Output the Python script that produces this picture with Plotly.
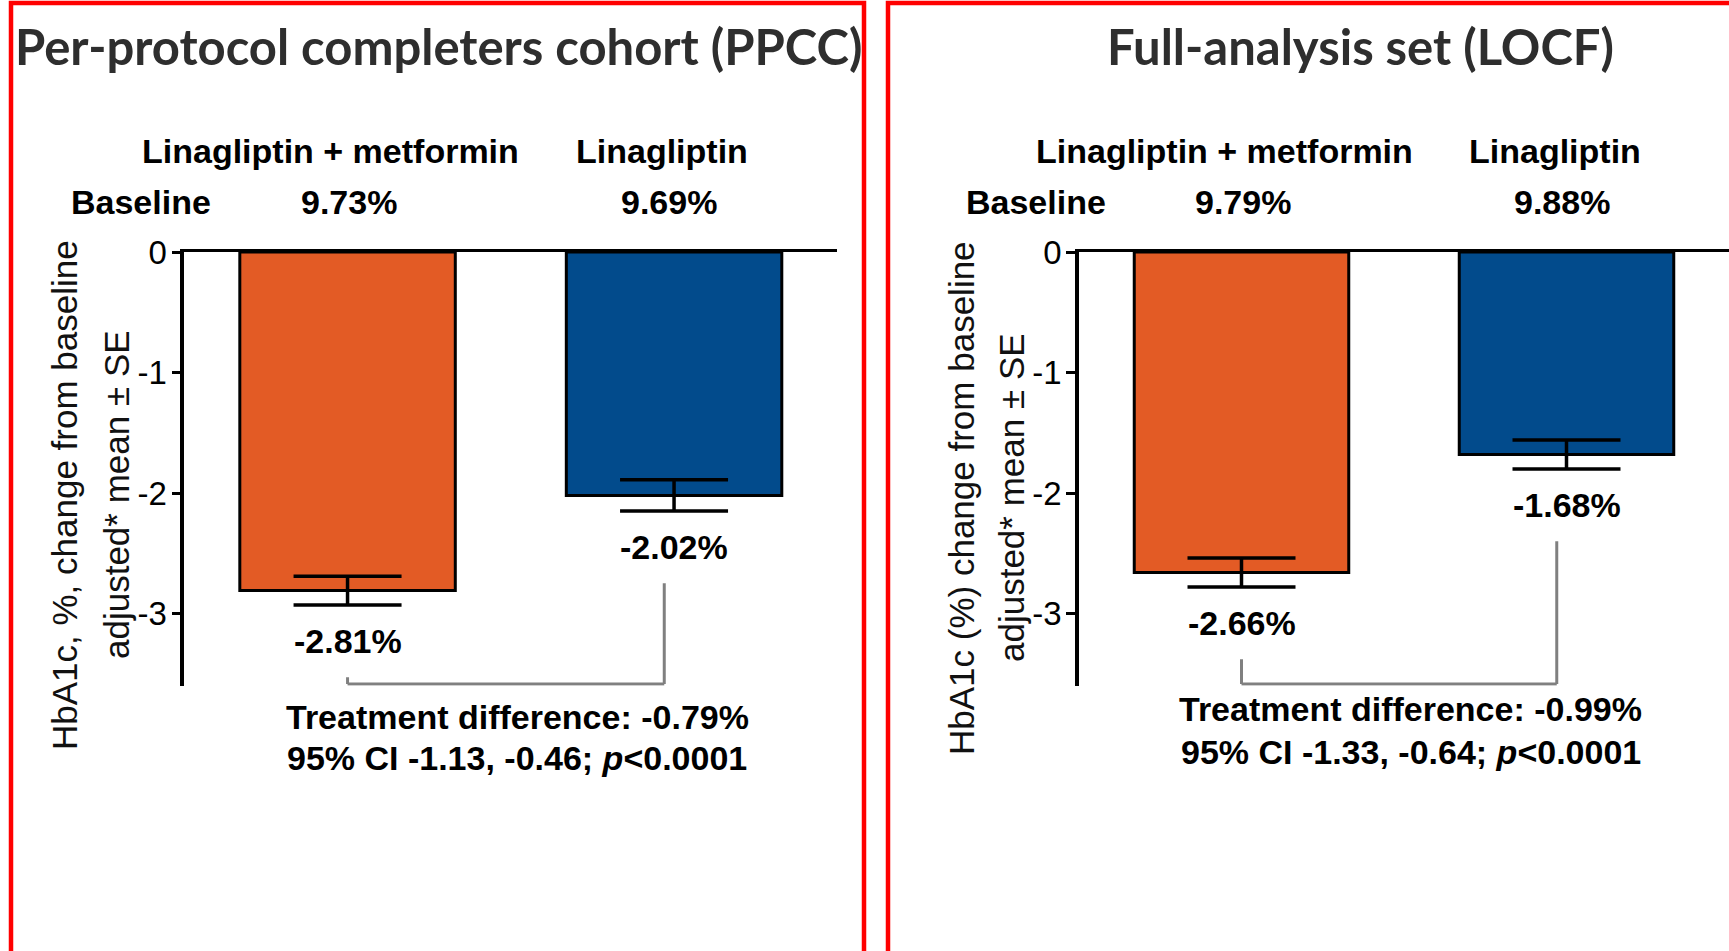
import plotly.graph_objects as go

W, H = 1729, 951

# ---------------- data ----------------
groups = ["Linagliptin + metformin", "Linagliptin"]
panel_titles = ["Per-protocol completers cohort (PPCC)", "Full-analysis set (LOCF)"]
y_title_line1 = ["HbA1c, %, change from baseline", "HbA1c (%) change from baseline"]
y_title_line2 = ["adjusted* mean ± SE", "adjusted* mean ± SE"]
baseline_ppcc = [9.73, 9.69]
baseline_fas = [9.79, 9.88]
change_ppcc = [-2.81, -2.02]
change_fas = [-2.66, -1.68]
se_ppcc = [0.12, 0.13]
se_fas = [0.12, 0.12]
treat_diff = [-0.79, -0.99]
ci_low = [-1.13, -1.33]
ci_high = [-0.46, -0.64]
p_values = ["<0.0001", "<0.0001"]
y_tick_vals = [0, -1, -2, -3]
y_tick_text = ["0", "-1", "-2", "-3"]
bar_colors = ["#E35B25", "#024B8C"]

panels = [
    dict(base=baseline_ppcc, chg=change_ppcc, se=se_ppcc),
    dict(base=baseline_fas, chg=change_fas, se=se_fas),
]

# ---------------- layout helpers ----------------
ARIAL = "Liberation Sans, Arial, Helvetica, sans-serif"
TITLE_FONT = "Lato, Carlito, Calibri, sans-serif"


def px(x):
    return x / W


def py(y):
    return 1 - y / H


x_domains = [[px(184.3), px(837.3)], [px(1079), 1.0]]
y_domain = [py(685.8), py(252)]
y_range = [-3.6, 0]

fig = go.Figure()
annotations = []
shapes = []

title_x = [438, 1360]
ytitle_x1 = [64, 962]
ytitle_x2 = [116, 1012]
ytitle_y = [495, 498]
diff_y1 = [717, 709]
diff_y2 = [758, 752]

for i, p in enumerate(panels):
    xa = "x" if i == 0 else "x2"
    ya = "y" if i == 0 else "y2"
    fig.add_trace(go.Bar(
        x=[0, 1], y=p["chg"], xaxis=xa, yaxis=ya, width=0.66,
        marker=dict(color=bar_colors, line=dict(color="black", width=3)),
        error_y=dict(type="data", array=p["se"], visible=True,
                     color="black", thickness=3.5, width=54),
        hoverinfo="skip",
    ))
    # panel title
    annotations.append(dict(
        text=f"<b>{panel_titles[i]}</b>", xref="paper", yref="paper",
        x=px(title_x[i]), y=py(46), xanchor="center", yanchor="middle",
        showarrow=False, font=dict(family=TITLE_FONT, size=49, color="#2E2E2E")))
    # group headers
    for j, g in enumerate(groups):
        annotations.append(dict(
            text=f"<b>{g}</b>", xref=xa, yref="paper", x=j, xshift=[-17, -12][j],
            y=py(151), xanchor="center", yanchor="middle", showarrow=False,
            font=dict(family=ARIAL, size=34, color="black")))
        annotations.append(dict(
            text=f"<b>{p['base'][j]:.2f}%</b>", xref=xa, yref="paper", x=j,
            xshift=[1, -5][j], y=py(202), xanchor="center", yanchor="middle",
            showarrow=False, font=dict(family=ARIAL, size=34, color="black")))
        # value labels under error bars
        annotations.append(dict(
            text=f"<b>{p['chg'][j]:.2f}%</b>", xref=xa, yref=ya, x=j,
            y=p["chg"][j] - p["se"][j], yshift=-36, xanchor="center",
            yanchor="middle", showarrow=False,
            font=dict(family=ARIAL, size=34, color="black")))
    annotations.append(dict(
        text="<b>Baseline</b>", xref=xa + " domain", yref="paper", x=0, xshift=-43,
        y=py(202), xanchor="center", yanchor="middle", showarrow=False,
        font=dict(family=ARIAL, size=34, color="black")))
    # y axis title lines
    for lx, txt in ((ytitle_x1[i], y_title_line1[i]), (ytitle_x2[i], y_title_line2[i])):
        annotations.append(dict(
            text=txt, xref="paper", yref="paper", x=px(lx), y=py(ytitle_y[i]),
            xanchor="center", yanchor="middle", textangle=-90, showarrow=False,
            font=dict(family=ARIAL, size=35, color="#111111")))
    # treatment difference text
    annotations.append(dict(
        text=f"<b>Treatment difference: {treat_diff[i]:.2f}%</b>",
        xref=xa, yref="paper", x=0.52, y=py(diff_y1[i]), xanchor="center",
        yanchor="middle", showarrow=False,
        font=dict(family=ARIAL, size=34, color="black")))
    annotations.append(dict(
        text=f"<b>95% CI {ci_low[i]:.2f}, {ci_high[i]:.2f}; <i>p</i>{p_values[i]}</b>",
        xref=xa, yref="paper", x=0.52, y=py(diff_y2[i]), xanchor="center",
        yanchor="middle", showarrow=False,
        font=dict(family=ARIAL, size=34, color="black")))
    # bracket
    gap = 0.6
    yb = -3.585
    tops = [p["chg"][j] - p["se"][j] - gap for j in range(2)]
    bl = dict(color="#808080", width=3)
    shapes.append(dict(type="line", xref=xa, yref=ya, x0=0, x1=0, y0=tops[0], y1=yb, line=bl))
    shapes.append(dict(type="line", xref=xa, yref=ya, x0=0.97, x1=0.97, y0=tops[1], y1=yb, line=bl))
    shapes.append(dict(type="line", xref=xa, yref=ya, x0=0, x1=0.97, y0=yb, y1=yb, line=bl))

# red frames
red = dict(color="#FF0000", width=4.5)
shapes.append(dict(type="rect", xref="paper", yref="paper", x0=px(11), x1=px(864),
                   y0=-0.2, y1=py(3), line=red, fillcolor="rgba(0,0,0,0)", layer="above"))
shapes.append(dict(type="rect", xref="paper", yref="paper", x0=px(888), x1=1.2,
                   y0=-0.2, y1=py(3), line=red, fillcolor="rgba(0,0,0,0)", layer="above"))

xaxis_common = dict(range=[-0.5, 1.5], side="top", showline=True, linecolor="black",
                    linewidth=3, showticklabels=False, ticks="", showgrid=False,
                    zeroline=False, fixedrange=True, automargin=False)
yaxis_common = dict(range=y_range, domain=y_domain, showline=True, linecolor="black",
                    linewidth=3.5, ticks="outside", ticklen=9, tickwidth=3,
                    tickcolor="black", tickvals=y_tick_vals, ticktext=y_tick_text,
                    ticklabelstandoff=-2,
                    tickfont=dict(family=ARIAL, size=33, color="black"),
                    showgrid=False, zeroline=False, fixedrange=True, automargin=False)

fig.update_layout(
    template="none",
    width=W, height=H, margin=dict(l=0, r=0, t=0, b=0, pad=0), autosize=False,
    paper_bgcolor="white", plot_bgcolor="white", showlegend=False,
    xaxis=dict(domain=x_domains[0], anchor="y", **xaxis_common),
    yaxis=dict(anchor="x", **yaxis_common),
    xaxis2=dict(domain=x_domains[1], anchor="y2", **xaxis_common),
    yaxis2=dict(anchor="x2", **yaxis_common),
    annotations=annotations, shapes=shapes,
)

fig.write_html("out.html", config={"displayModeBar": False})
